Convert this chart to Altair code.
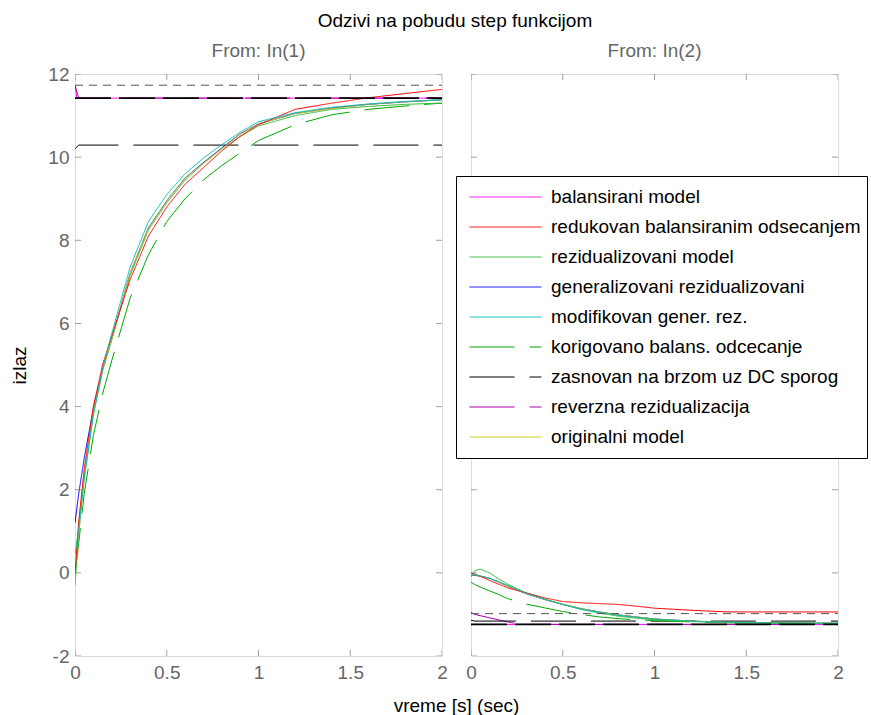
import altair as alt
import pandas as pd

# ---------------- data ----------------
names = ["balansirani model", "redukovan balansiranim odsecanjem", "rezidualizovani model",
         "generalizovani rezidualizovani", "modifikovan gener. rez.", "korigovano balans. odcecanje",
         "zasnovan na brzom uz DC sporog", "reverzna rezidualizacija", "originalni model"]
colors = ["#ff00ff", "#ff0000", "#33bb33", "#0000ff", "#00bbbb", "#00a800", "#000000", "#a800a8", "#cccc00"]
dashes = [[1, 0], [1, 0], [1, 0], [1, 0], [1, 0], [45, 15], [45, 15], [45, 15], [1, 0]]

T = [0, 0.02, 0.05, 0.1, 0.15, 0.2, 0.3, 0.4, 0.5, 0.6, 0.7, 0.8, 0.9, 1.0, 1.2, 1.4, 1.6, 1.8, 2.0]

orig_L = [0.0, 1.2, 2.4, 3.9, 4.9, 5.6, 7.2, 8.3, 8.95, 9.5, 9.85, 10.2, 10.55, 10.8, 11.05, 11.17, 11.27, 11.33, 11.38]
cyan_L = [0.45, 1.05, 2.25, 3.8, 4.9, 5.75, 7.35, 8.45, 9.1, 9.6, 9.98, 10.3, 10.6, 10.85, 11.07, 11.2, 11.28, 11.34, 11.38]
blue_L = [1.2, 1.9, 2.75, 3.95, 4.9, 5.62, 7.2, 8.3, 8.95, 9.5, 9.87, 10.22, 10.56, 10.8, 11.05, 11.18, 11.27, 11.33, 11.38]
red_L = [0.0, 1.2, 2.5, 4.0, 5.0, 5.7, 7.05, 8.1, 8.8, 9.35, 9.75, 10.15, 10.5, 10.78, 11.15, 11.3, 11.43, 11.53, 11.63]
rez_L = [-0.3, 0.9, 2.3, 3.8, 4.85, 5.6, 7.15, 8.25, 8.9, 9.45, 9.85, 10.2, 10.5, 10.75, 11.0, 11.15, 11.22, 11.27, 11.3]
korig_L = [0.0, 0.7, 1.9, 3.3, 4.3, 5.1, 6.6, 7.65, 8.45, 9.0, 9.45, 9.8, 10.1, 10.4, 10.78, 11.02, 11.15, 11.23, 11.3]

orig_R = [-0.04, -0.05, -0.08, -0.13, -0.22, -0.32, -0.5, -0.63, -0.75, -0.86, -0.94, -1.01, -1.06, -1.11, -1.16, -1.19, -1.2, -1.21, -1.21]
cyan_R = [-0.02, -0.04, -0.07, -0.13, -0.21, -0.3, -0.49, -0.63, -0.76, -0.87, -0.95, -1.02, -1.07, -1.11, -1.16, -1.19, -1.2, -1.21, -1.21]
blue_R = [-0.05, -0.06, -0.08, -0.13, -0.22, -0.32, -0.5, -0.64, -0.76, -0.86, -0.94, -1.01, -1.06, -1.11, -1.16, -1.19, -1.2, -1.21, -1.21]
red_R = [0.0, -0.03, -0.08, -0.18, -0.27, -0.36, -0.48, -0.6, -0.69, -0.72, -0.74, -0.76, -0.8, -0.85, -0.9, -0.94, -0.94, -0.94, -0.94]
rez_R = [-0.1, 0.05, 0.09, 0.0, -0.14, -0.27, -0.48, -0.63, -0.76, -0.88, -0.97, -1.04, -1.09, -1.13, -1.17, -1.2, -1.21, -1.21, -1.22]
korig_R = [-0.22, -0.28, -0.34, -0.43, -0.52, -0.62, -0.75, -0.84, -0.93, -1.0, -1.06, -1.1, -1.13, -1.15, -1.18, -1.2, -1.21, -1.21, -1.22]

bal_T = [0, 0.01, 2.0]
bal_L = [11.73, 11.42, 11.42]
bal_R = [-1.24, -1.24, -1.24]
rev_T = [0, 0.02, 0.1, 0.22, 0.3, 2.0]
rev_L = [11.73, 11.42, 11.42, 11.42, 11.42, 11.42]
rev_R = [-0.95, -1.0, -1.08, -1.2, -1.24, -1.24]
zas_T = [0, 0.02, 2.0]
zas_L = [10.2, 10.29, 10.29]
zas_R = [-1.14, -1.16, -1.16]

# unlabeled reference levels
ref_T = [0, 2.0]
refA_L = [11.73, 11.73]
refA_R = [-0.98, -0.98]
refB_L = [11.42, 11.42]
refB_R = [-1.24, -1.24]

x_ticks = [0, 0.5, 1, 1.5, 2]
y_ticks = [-2, 0, 2, 4, 6, 8, 10, 12]

# ---------------- table ----------------
series = [
    (names[0], bal_T, bal_L, bal_R),
    (names[7], rev_T, rev_L, rev_R),
    (names[6], zas_T, zas_L, zas_R),
    (names[5], T, korig_L, korig_R),
    (names[3], T, blue_L, blue_R),
    (names[2], T, rez_L, rez_R),
    (names[8], T, orig_L, orig_R),
    (names[1], T, red_L, red_R),
    (names[4], T, cyan_L, cyan_R),
]
rows = []
for nm, ts, yl, yr in series:
    for t, v in zip(ts, yl):
        rows.append({"t": t, "y": v, "model": nm, "panel": "L"})
    for t, v in zip(ts, yr):
        rows.append({"t": t, "y": v, "model": nm, "panel": "R"})
df = pd.DataFrame(rows)

refrows = []
for key, yl, yr in [("A", refA_L, refA_R), ("B", refB_L, refB_R)]:
    for t, v in zip(ref_T, yl):
        refrows.append({"t": t, "y": v, "ref": key, "panel": "L"})
    for t, v in zip(ref_T, yr):
        refrows.append({"t": t, "y": v, "ref": key, "panel": "R"})
ref = pd.DataFrame(refrows)

xt_bottom = pd.DataFrame({"t": x_ticks, "y": [-2] * len(x_ticks)})
xt_top = pd.DataFrame({"t": x_ticks, "y": [12] * len(x_ticks)})
yt_left = pd.DataFrame({"t": [0] * len(y_ticks), "y": y_ticks})
yt_right = pd.DataFrame({"t": [2] * len(y_ticks), "y": y_ticks})

FONT = "Liberation Sans"
GRAY = "#666666"
W, H = 367, 582

xscale = alt.Scale(domain=[0, 2], nice=False)
yscale = alt.Scale(domain=[-2, 12], nice=False)

LEG = alt.Legend(title=None, orient="none", legendX=381, legendY=102,
                 symbolType="stroke", symbolSize=5184, symbolStrokeWidth=1,
                 symbolOffset=7,
                 labelFontSize=19, labelFont=FONT, labelColor="#000000",
                 labelOffset=9, rowPadding=0, clipHeight=30, padding=6,
                 strokeColor="#000000", fillColor="#ffffff", labelLimit=400)


def panel(p, subtitle, sub_offset):
    left = p == "L"
    xaxis = alt.Axis(values=x_ticks, format="~g", grid=False, ticks=False, domain=False,
                     labelFontSize=19, labelColor=GRAY, labelFont=FONT, labelPadding=7,
                     labelFlush=False,
                     title="vreme [s] (sec)" if left else "",
                     titleFontSize=19, titleFont=FONT, titleFontWeight="normal",
                     titleColor="#000000", titleX=381, titleAlign="center", titlePadding=14)
    if left:
        yaxis = alt.Axis(values=y_ticks, grid=False, ticks=False, domain=False,
                         labelExpr="datum.value < 0 ? '-' + toString(-datum.value) : toString(datum.value)",
                         labelFontSize=19, labelColor=GRAY, labelFont=FONT, labelPadding=6,
                         title="izlaz", titleFontSize=19, titleFont=FONT,
                         titleFontWeight="normal", titleColor="#000000", titlePadding=18)
    else:
        yaxis = alt.Axis(values=y_ticks, grid=False, ticks=False, domain=False, labels=False,
                         title="")
    X = alt.X("t:Q", scale=xscale, axis=xaxis)
    Y = alt.Y("y:Q", scale=yscale, axis=yaxis)

    lines = alt.Chart(df[df.panel == p]).mark_line(clip=True, strokeWidth=1).encode(
        x=X, y=Y,
        color=alt.Color("model:N", scale=alt.Scale(domain=names, range=colors), legend=LEG),
        strokeDash=alt.StrokeDash("model:N", scale=alt.Scale(domain=names, range=dashes),
                                  legend=LEG),
    )
    refA = alt.Chart(ref[(ref.panel == p) & (ref.ref == "A")]).mark_line(
        clip=True, strokeWidth=1, color="#555555", strokeDash=[8, 6]).encode(x="t:Q", y="y:Q")
    refB = alt.Chart(ref[(ref.panel == p) & (ref.ref == "B")]).mark_line(
        clip=True, strokeWidth=1.6, color="#000000", strokeDash=[36, 8]).encode(x="t:Q", y="y:Q")

    tk = dict(clip=True, color="#777777", size=12, thickness=1)
    tb = alt.Chart(xt_bottom).mark_tick(orient="vertical", **tk).encode(x="t:Q", y="y:Q")
    tt = alt.Chart(xt_top).mark_tick(orient="vertical", **tk).encode(x="t:Q", y="y:Q")
    tl = alt.Chart(yt_left).mark_tick(orient="horizontal", **tk).encode(x="t:Q", y="y:Q")
    tr = alt.Chart(yt_right).mark_tick(orient="horizontal", **tk).encode(x="t:Q", y="y:Q")

    return alt.layer(lines, refA, refB, tb, tt, tl, tr).properties(
        width=W, height=H,
        title=alt.TitleParams(subtitle, fontSize=19, font=FONT, fontWeight="normal",
                              color=GRAY, offset=sub_offset))


chart = alt.hconcat(panel("L", "From: In(1)", 4), panel("R", "From: In(2)", 13),
                    spacing=29, bounds="flush").properties(
    title=alt.TitleParams("Odzivi na pobudu step funkcijom", fontSize=19, font=FONT,
                          fontWeight="normal", color="#000000", anchor="middle",
                          dx=16, offset=11),
    padding={"left": 10, "top": 11, "right": 0, "bottom": 0},
).configure_view(stroke="#7a7a7a", strokeWidth=1).configure(font=FONT)

chart.save("out.html", embed_options={"renderer": "svg", "actions": False})
